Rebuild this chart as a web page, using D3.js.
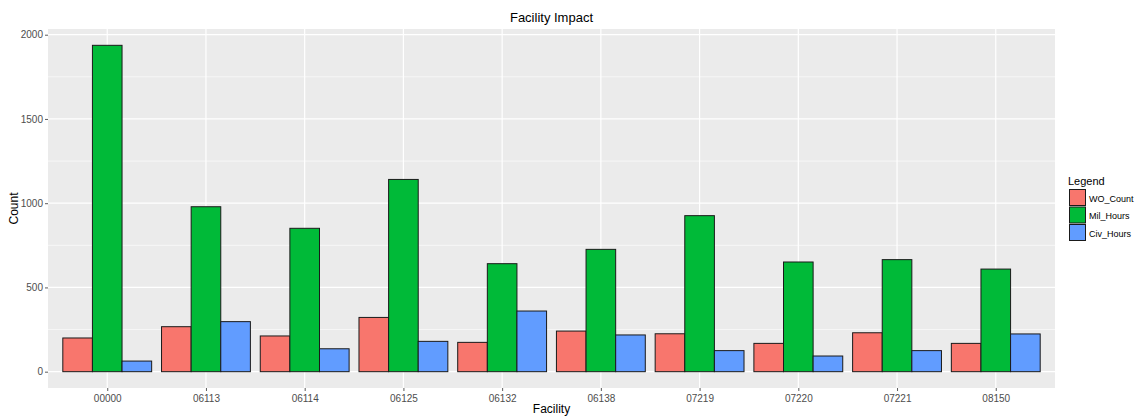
<!DOCTYPE html>
<html><head><meta charset="utf-8">
<script src="https://cdn.jsdelivr.net/npm/d3@7/dist/d3.min.js"></script>
<style>body{margin:0;background:#fff;}svg{display:block;font-family:"Liberation Sans",Arial,sans-serif;}</style>
</head><body><svg id="c" width="1139" height="417"></svg>
<script>
const facilities = ["00000","06113","06114","06125","06132","06138","07219","07220","07221","08150"];
const seriesNames = ["WO_Count","Mil_Hours","Civ_Hours"];
const woCount  = [200, 267, 212, 322, 174, 241, 225, 168, 231, 168];
const milHours = [1937, 979, 851, 1141, 641, 726, 926, 651, 665, 609];
const civHours = [63, 297, 136, 180, 360, 218, 125, 93, 125, 224];
const yTicks = [0, 500, 1000, 1500, 2000];
const yMinor = [250, 750, 1250, 1750];
const colors = ["#F8766D", "#00BA38", "#619CFF"];

const svg = d3.select("#c");
const L = 48, R = 1055, T = 29, B = 388;
const values = [woCount, milHours, civHours];
const maxV = d3.max(milHours);
const pad = maxV * 0.05;
const y = d3.scaleLinear().domain([-pad, maxV + pad]).range([B, T]);
const n = facilities.length;
const step = (R - L) / (n - 1 + 1.2);
const x = d3.scalePoint().domain(facilities).range([L + 0.6 * step, R - 0.6 * step]);
const bw = step * 0.9 / 3;

svg.append("rect").attr("x", L).attr("y", T).attr("width", R - L).attr("height", B - T).attr("fill", "#ebebeb");
const g = svg.append("g");
g.selectAll(".minor").data(yMinor).join("line")
  .attr("x1", L).attr("x2", R).attr("y1", d => y(d)).attr("y2", d => y(d))
  .attr("stroke", "#fff").attr("stroke-width", 0.6);
g.selectAll(".major").data(yTicks).join("line")
  .attr("x1", L).attr("x2", R).attr("y1", d => y(d)).attr("y2", d => y(d))
  .attr("stroke", "#fff").attr("stroke-width", 1.2);
g.selectAll(".vmaj").data(facilities).join("line")
  .attr("x1", d => x(d)).attr("x2", d => x(d)).attr("y1", T).attr("y2", B)
  .attr("stroke", "#fff").attr("stroke-width", 1.2);

seriesNames.forEach((s, si) => {
  svg.append("g").selectAll("rect").data(facilities).join("rect")
    .attr("x", d => x(d) - 1.5 * bw + si * bw)
    .attr("width", bw)
    .attr("y", (d, i) => y(values[si][i]))
    .attr("height", (d, i) => y(0) - y(values[si][i]))
    .attr("fill", colors[si]).attr("stroke", "#1a1a1a").attr("stroke-width", 1);
});

// axes
const yAxis = d3.axisLeft(y).tickValues(yTicks).tickFormat(d3.format("d")).tickSize(3).tickPadding(2);
const ya = svg.append("g").attr("transform", `translate(${L},0)`).call(yAxis);
const xAxis = d3.axisBottom(x).tickSize(3).tickPadding(4);
const xa = svg.append("g").attr("transform", `translate(0,${B})`).call(xAxis);
[ya, xa].forEach(a => {
  a.select(".domain").remove();
  a.selectAll(".tick line").attr("stroke", "#333").attr("stroke-width", 0.8);
  a.selectAll(".tick text").attr("fill", "#4d4d4d").attr("font-size", 10).attr("font-family", "Liberation Sans, Arial, sans-serif");
});

svg.append("text").attr("x", (L + R) / 2).attr("y", 22).attr("text-anchor", "middle")
  .attr("font-size", 13).attr("fill", "#000").text("Facility Impact");
svg.append("text").attr("x", (L + R) / 2).attr("y", 413).attr("text-anchor", "middle")
  .attr("font-size", 12).attr("fill", "#000").text("Facility");
svg.append("text").attr("transform", `translate(18,${(T + B) / 2}) rotate(-90)`).attr("text-anchor", "middle")
  .attr("font-size", 12).attr("fill", "#000").text("Count");

// legend
const lg = svg.append("g");
lg.append("text").attr("x", 1068).attr("y", 185).attr("font-size", 11).attr("fill", "#000").text("Legend");
seriesNames.forEach((s, i) => {
  lg.append("rect").attr("x", 1069).attr("y", 189 + i * 17.5).attr("width", 17).attr("height", 17)
    .attr("fill", "#f2f2f2");
  lg.append("rect").attr("x", 1069.5).attr("y", 189.5 + i * 17.5).attr("width", 16).attr("height", 16)
    .attr("fill", colors[i]).attr("stroke", "#1a1a1a").attr("stroke-width", 1);
  lg.append("text").attr("x", 1089).attr("y", 201.5 + i * 17.5).attr("font-size", 9).attr("fill", "#000").text(s);
});
</script></body></html>
